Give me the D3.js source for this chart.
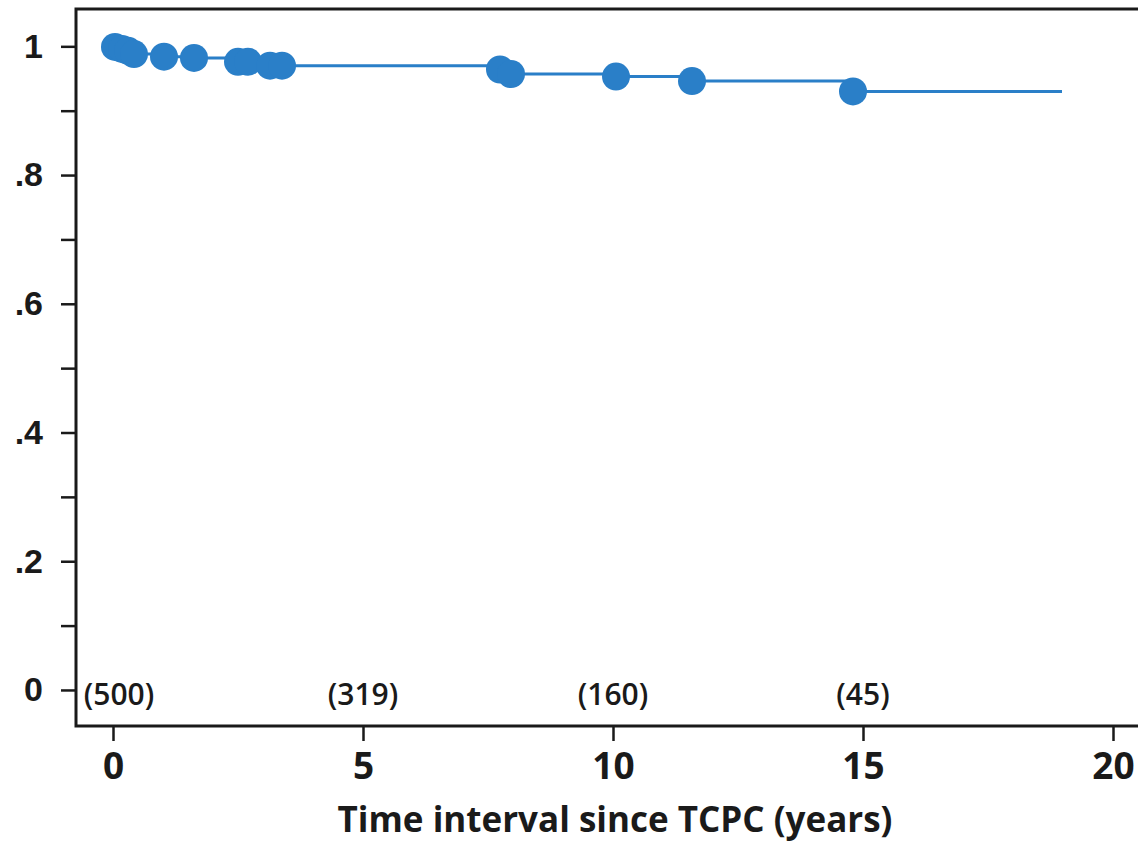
<!DOCTYPE html>
<html>
<head>
<meta charset="utf-8">
<script src="https://cdn.jsdelivr.net/npm/d3@7"></script>
<style>
  body { margin: 0; background: #fff; }
  svg { display: block; }
</style>
</head>
<body>
<div id="chart"></div>
<script>
// survival estimates at each event time (years since TCPC)
var eventTimes = [0.04, 0.18, 0.3, 0.42, 1.02, 1.62, 2.5, 2.7, 3.14, 3.38, 7.74, 7.96, 10.06, 11.58, 14.8]
var survival   = [0.999, 0.996, 0.993, 0.988, 0.984, 0.982, 0.976, 0.976, 0.970, 0.970, 0.964, 0.957, 0.953, 0.946, 0.930]
var lastFollowUp = 18.98

// numbers at risk
var riskTimes = [0, 5, 10, 15]
var riskCounts = [500, 319, 160, 45]

var xTicks = [0, 5, 10, 15, 20]
var yTicks = [0, 0.2, 0.4, 0.6, 0.8, 1]
var yMinor = [0.1, 0.3, 0.5, 0.7, 0.9]

var W = 1138, H = 844
var blue = '#2a7fc8'
var ink = '#1a1a1a'

// plot frame in pixels
var m = { left: 76, right: 1138, top: 9, bottom: 726 }

var svg = d3.select('#chart').append('svg')
  .attr('width', W)
  .attr('height', H)

var x = d3.scaleLinear().domain([-0.74, 20.5]).range([m.left, m.right])
var y = d3.scaleLinear().domain([-0.056, 1.058]).range([m.bottom, m.top])

var fmtY = v => v === 0 ? '0' : v === 1 ? '1' : d3.format('.1f')(v).replace('0.', '.')

// y axis (major + minor ticks, same length)
var yAxis = svg.append('g')
  .attr('transform', 'translate(' + m.left + ',0)')
  .call(d3.axisLeft(y).tickValues(yTicks).tickFormat(fmtY).tickSize(15).tickPadding(18))
svg.append('g')
  .attr('transform', 'translate(' + m.left + ',0)')
  .call(d3.axisLeft(y).tickValues(yMinor).tickFormat('').tickSize(15))
  .call(g => g.select('.domain').remove())
  .selectAll('line').attr('stroke', ink).attr('stroke-width', 2.5)

yAxis.select('.domain').remove()
yAxis.selectAll('line').attr('stroke', ink).attr('stroke-width', 2.5)
yAxis.selectAll('text')
  .attr('fill', ink)
  .style('font-family', '"Liberation Sans", Arial, sans-serif')
  .style('font-weight', 'bold')
  .style('font-size', '34px')

// x axis
var xAxis = svg.append('g')
  .attr('transform', 'translate(0,' + m.bottom + ')')
  .call(d3.axisBottom(x).tickValues(xTicks).tickFormat(d3.format('d')).tickSize(15).tickPadding(12))
xAxis.select('.domain').remove()
xAxis.selectAll('line').attr('stroke', ink).attr('stroke-width', 2.5)
xAxis.selectAll('text')
  .attr('fill', ink)
  .style('font-family', '"Open Sans", sans-serif')
  .style('font-weight', 'bold')
  .style('font-size', '37px')

// frame: left, top, bottom
svg.append('path')
  .attr('d', 'M' + m.right + ',' + m.top + 'H' + m.left + 'V' + m.bottom + 'H' + m.right)
  .attr('fill', 'none')
  .attr('stroke', ink)
  .attr('stroke-width', 3)

// axis title
svg.append('text')
  .attr('x', 615)
  .attr('y', 832)
  .attr('text-anchor', 'middle')
  .attr('fill', ink)
  .style('font-family', '"Open Sans", sans-serif')
  .style('font-weight', 'bold')
  .style('font-size', '35px')
  .text('Time interval since TCPC (years)')

// numbers at risk
svg.selectAll('text.risk')
  .data(riskTimes.map((t, i) => ({ t: t, n: riskCounts[i] })))
  .enter().append('text')
  .attr('class', 'risk')
  .attr('x', (d, i) => x(d.t) + (i === 0 ? 6 : 0))
  .attr('y', 705)
  .attr('text-anchor', 'middle')
  .attr('fill', ink)
  .style('font-family', '"Open Sans", sans-serif')
  .style('font-weight', '600')
  .style('font-size', '30px')
  .text(d => '(' + d.n + ')')

// step curve
var steps = [{ t: 0, s: 1 }]
eventTimes.forEach((t, i) => steps.push({ t: t, s: survival[i] }))
steps.push({ t: lastFollowUp, s: survival[survival.length - 1] })

var line = d3.line()
  .x(d => x(d.t))
  .y(d => y(d.s))
  .curve(d3.curveStepAfter)

svg.append('path')
  .datum(steps)
  .attr('d', line)
  .attr('fill', 'none')
  .attr('stroke', blue)
  .attr('stroke-width', 3)

// event markers
svg.selectAll('circle.event')
  .data(eventTimes.map((t, i) => ({ t: t, s: survival[i] })))
  .enter().append('circle')
  .attr('class', 'event')
  .attr('cx', d => x(d.t))
  .attr('cy', d => y(d.s))
  .attr('r', 14)
  .attr('fill', blue)
</script>
</body>
</html>
